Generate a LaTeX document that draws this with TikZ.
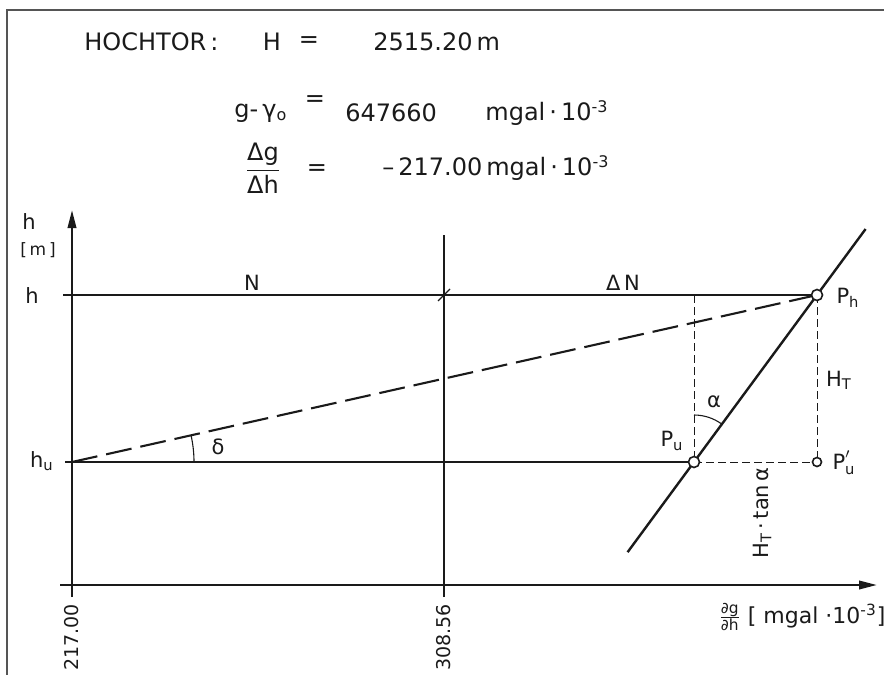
\documentclass[tikz,border=0pt]{standalone}
\usepackage{amsmath}
\usepackage{fontspec}
\setmainfont{DejaVu Sans}
\usetikzlibrary{
  arrows.meta,
  calc,
}
\definecolor{ink}{HTML}{1A1A1A}
\definecolor{framegray}{HTML}{555555}
\tikzset{
  >={Triangle[length=9pt,width=4.2pt]},
  every node/.append style={text=ink, font=\fontsize{10.5}{12}\selectfont},
  head/.style={font=\fontsize{12}{14}\selectfont, inner sep=1pt},
  unit/.style={font=\fontsize{8.5}{10}\selectfont},
  ticklabel/.style={font=\fontsize{9.5}{10}\selectfont, rotate=90, anchor=east, inner sep=1pt},
  thinline/.style={draw=ink, line width=0.55pt},
  axis/.style={draw=ink, line width=1.2pt},
  slope/.style={draw=ink, line width=1.2pt},
  sight/.style={draw=ink, line width=1.05pt, dash pattern=on 13pt off 4.5pt},
  guide/.style={draw=ink, line width=0.5pt, dash pattern=on 4pt off 2pt},
  station/.style={circle, draw=ink, fill=white, line width=0.8pt, inner sep=0pt, minimum size=#1},
  station/.default=5.5pt,
}

\begin{document}
\begin{tikzpicture}[x=0.5pt,y=0.5pt]
  \useasboundingbox (0,0) rectangle (884,677);
  \draw[framegray, line width=0.7pt] (884,667) -- (7,667) -- (7,2);

  % header
  \node[head, anchor=west] (site) at (82,635) {HOCHTOR\,:};
  \node[head] (Hsym) at (272,635) {H};
  \node[head] (eqH) at (309,635) {=};
  \node[head, anchor=west] (Hval) at (371,635) {2515.20\,m};

  \node[head, anchor=west] (ggam) at (232,564) {g-\,γ\textsubscript{o}};
  \node[head] (eqg) at (315,576) {=};
  \node[head, anchor=west] (gval) at (343,564) {647660};
  \node[head, anchor=west] (gunit) at (483,564) {mgal\,·\,10\textsuperscript{-3}};

  \node[head] (dgdh) at (263,509) {$\dfrac{\text{Δg}}{\text{Δh}}$};
  \node[head] (eqd) at (317,507) {=};
  \node[head, anchor=west] (dval) at (380,509) {–\,217.00\,mgal\,·\,10\textsuperscript{-3}};

  % points
  \coordinate (O) at (72,92);
  \coordinate (hu) at (72,215);
  \coordinate (hh) at (72,382);
  \coordinate (Pu) at (694,215);
  \coordinate (Ph) at (817,382);
  \coordinate (Pup) at (Ph |- Pu);
  \coordinate (Ptop) at (Pu |- Ph);
  \coordinate (cross) at (444,382);

  % axes
  \draw[axis, ->] (72,80) -- (72,467);
  \draw[axis, ->] (60,92) -- (877,92);
  \draw[thinline] (444,80) -- (444,442);
  \node[ticklabel] (t217) at (72,75) {217.00};
  \node[ticklabel] (t308) at (444,75) {308.56};
  \node[anchor=west, inner sep=1pt, font=\fontsize{11}{12}\selectfont] (xlab) at (716,60)
    {$\frac{\text{∂g}}{\text{∂h}}$ [ mgal ·10\textsuperscript{-3}]};
  \node (ylab) at (29,455) {h};
  \node[unit] (yunit) at (38,427) {[\,m\,]};

  % levels
  \draw[thinline] (63,382) -- (Ph);
  \draw[thinline] (65,215) -- (Pu);
  \draw[thinline] ($(cross)+(-6,-6)$) -- ($(cross)+(6,6)$);
  \node (lh) at (32,381) {h};
  \node (lhu) at (42,216) {h\textsubscript{u}};
  \node (lN) at (252,394) {N};
  \node (lDN) at (623,394) {Δ\,N};

  % sight line and angle delta
  \draw[sight] (hu) -- (Ph);
  \draw[thinline] ($(hu)+(0:122)$) arc[start angle=0, end angle=12.6, radius=122];
  \node (ldelta) at (218,230) {δ};

  % construction
  \draw[guide] (Ptop) -- (Pu);
  \draw[guide] (Ph) -- (Pup);
  \draw[guide] (Pu) -- (Pup);
  \draw[slope] ($(Pu)!-0.54!(Ph)$) -- ($(Pu)!1.395!(Ph)$);
  \draw[thinline] ($(Pu)+(90:47)$) arc[start angle=90, end angle=53.6, radius=47];
  \node (lalpha) at (714,275) {α};

  \node[station] (nPh) at (Ph) {};
  \node[station] (nPu) at (Pu) {};
  \node[station=4.5pt] (nPup) at (Pup) {};
  \node (lPh) at (848,379) {P\textsubscript{h}};
  \node (lPu) at (672,236) {P\textsubscript{u}};
  \node (lPup) at (844,214) {$\text{P}'_{\text{u}}$};
  \node (lHT) at (839,297) {H\textsubscript{T}};
  \node[rotate=90] (lHtan) at (762,164) {H\textsubscript{T}\,·\,tan\,α};
\end{tikzpicture}
\end{document}
